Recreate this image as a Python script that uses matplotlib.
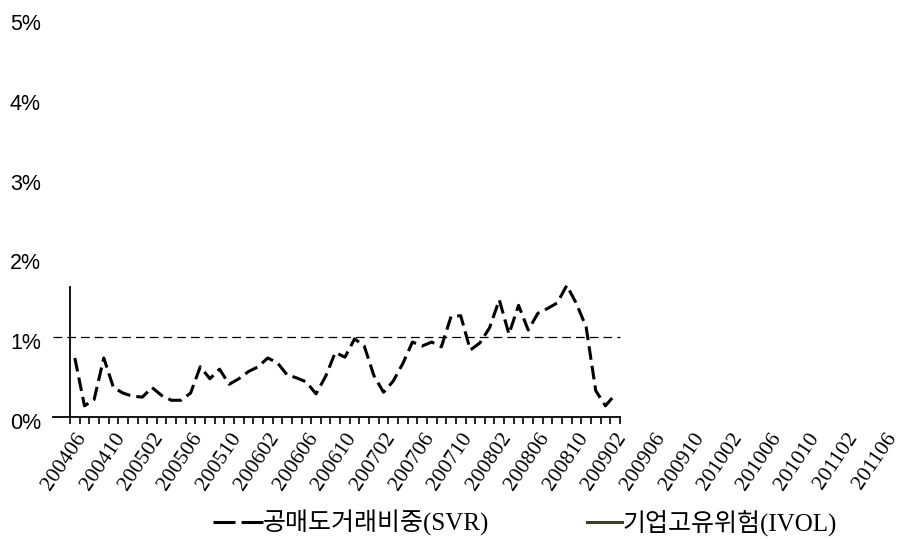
import matplotlib
matplotlib.use('Agg')
import matplotlib.pyplot as plt
import matplotlib.transforms as mtransforms
from matplotlib.lines import Line2D
from matplotlib.ticker import FixedLocator, FuncFormatter

# month labels on the x axis (every 4th month is labelled)
months = []
for y in range(2004, 2012):
    for m in range(1, 13):
        ym = y * 100 + m
        if 200406 <= ym <= 201106:
            months.append(str(ym))

# short-selling volume ratio (SVR), %, 200406 ~ 200902
svr = [0.74, 0.14, 0.22, 0.74, 0.37, 0.30, 0.26, 0.25, 0.37, 0.27,
       0.21, 0.21, 0.30, 0.63, 0.48, 0.60, 0.41, 0.48, 0.57, 0.63,
       0.74, 0.68, 0.53, 0.49, 0.44, 0.29, 0.51, 0.81, 0.75, 0.98,
       0.89, 0.52, 0.31, 0.45, 0.67, 0.94, 0.89, 0.94, 0.88, 1.26,
       1.27, 0.84, 0.93, 1.12, 1.47, 1.04, 1.40, 1.09, 1.30, 1.36,
       1.43, 1.65, 1.42, 1.13, 0.33, 0.14, 0.28]

y_ticks = [0, 1, 2, 3, 4, 5]
ref_level = 1.0

svr_label = '공매도거래비중(SVR)'
ivol_label = '기업고유위험(IVOL)'

legend_font = {'family': ['Liberation Serif', 'Noto Sans CJK KR'], 'size': 18}

fig = plt.figure(figsize=(9.07, 5.39), dpi=100)
ax = fig.add_axes([0.0772, 0.2263, 0.904, 0.740])

x = list(range(len(svr)))
ax.plot(x, svr, color='black', lw=2.2, dashes=(4.5, 2.0),
        dash_capstyle='butt', zorder=3, clip_on=False)

# dashed reference line at 1%
x_left = -2.26
x_right = len(svr) - 0.5
ax.plot([x_left, x_right], [ref_level, ref_level], color='black', lw=0.9,
        dashes=(7, 4), clip_on=False, zorder=2)

ax.set_xlim(-0.5, len(months) - 0.5)
ax.set_ylim(0, 5)

for s in ['top', 'right']:
    ax.spines[s].set_visible(False)
ax.spines['left'].set_bounds(0, 1.63)
ax.spines['bottom'].set_bounds(x_left, x_right)
for s in ['left', 'bottom']:
    ax.spines[s].set_linewidth(1.3)

# y axis
ax.set_yticks(y_ticks)
ax.yaxis.set_major_formatter(FuncFormatter(lambda v, p: f'{int(v)}%'))
ax.tick_params(axis='y', length=0, pad=21, labelsize=15.5)
shift = mtransforms.ScaledTranslation(0, -4 / 100, fig.dpi_scale_trans)
for lab in ax.get_yticklabels():
    lab.set_family('Liberation Sans')
    lab.set_transform(lab.get_transform() + shift)

# x axis: monthly tick marks up to the last data point, labels every 4 months
ax.xaxis.set_minor_locator(FixedLocator([i - 0.5 for i in range(len(svr) + 1)]))
ax.set_xticks(range(0, len(months), 4))
ax.set_xticklabels(months[::4], rotation=56, ha='right', va='top',
                   rotation_mode='anchor', family='Liberation Serif', fontsize=15.5)
ax.tick_params(axis='x', which='major', length=0, pad=9)
ax.tick_params(axis='x', which='minor', length=5, width=1.2, direction='out')

# legend: two single-entry legends so each handle can have its own length
leg1 = fig.legend([Line2D([], [], color='black', lw=2.2, dashes=(7.2, 2.0))], [svr_label],
                  loc='center left', bbox_to_anchor=(213 / 907, 0.03), frameon=False,
                  borderpad=0, borderaxespad=0, handlelength=2.0, handletextpad=0.0,
                  prop=legend_font)
leg2 = fig.legend([Line2D([], [], color='#3d3d28', lw=2.2)], [ivol_label],
                  loc='center left', bbox_to_anchor=(587 / 907, 0.03), frameon=False,
                  borderpad=0, borderaxespad=0, handlelength=1.4, handletextpad=0.0,
                  prop=legend_font)

fig.savefig('out.png', dpi=100)
